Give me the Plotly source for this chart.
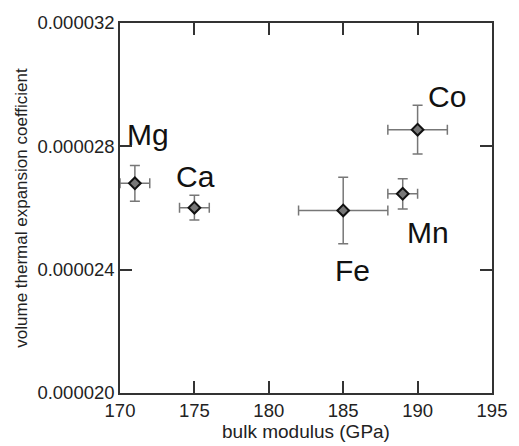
import plotly.graph_objects as go

elements = ["Mg", "Ca", "Fe", "Mn", "Co"]
bulk_modulus = [171, 175, 185, 189, 190]
bulk_err = [1, 1, 3, 1, 2]
alpha = [2.680e-5, 2.601e-5, 2.592e-5, 2.646e-5, 2.854e-5]
alpha_err = [0.058e-5, 0.040e-5, 0.108e-5, 0.049e-5, 0.079e-5]
label_x = [171.9, 175.1, 185.6, 190.7, 192.0]
label_y = [2.839e-5, 2.703e-5, 2.396e-5, 2.519e-5, 2.962e-5]

x_ticks = [170, 175, 180, 185, 190, 195]
y_ticks = [0.000020, 0.000024, 0.000028, 0.000032]

FONT = "Liberation Sans, Arial, sans-serif"

fig = go.Figure()
fig.add_trace(go.Scatter(
    x=bulk_modulus, y=alpha, mode="markers",
    error_x=dict(type="data", array=bulk_err, color="#777777", thickness=1.5, width=5),
    error_y=dict(type="data", array=alpha_err, color="#777777", thickness=1.5, width=5),
    marker=dict(symbol="diamond", size=9, color="#777777",
                line=dict(color="#111111", width=2)),
    showlegend=False,
))
for name, lx, ly in zip(elements, label_x, label_y):
    fig.add_annotation(x=lx, y=ly, text=name, showarrow=False,
                       font=dict(size=30, color="#111111", family=FONT))

axis_common = dict(showline=True, linecolor="#333333", linewidth=1.5, mirror="ticks",
                   ticks="inside", ticklen=12, tickcolor="#333333", tickwidth=1.5,
                   showgrid=False, zeroline=False,
                   tickfont=dict(size=18.5, color="#222222", family=FONT))
fig.update_xaxes(range=[170, 195], tickvals=x_ticks, ticktext=[str(v) for v in x_ticks],
                 title=dict(text="bulk modulus (GPa)", font=dict(size=19, color="#222222", family=FONT), standoff=0),
                 **axis_common)
fig.update_yaxes(range=[0.000020, 0.000032], tickvals=y_ticks,
                 ticktext=["%.6f" % v for v in y_ticks],
                 title=dict(text="volume thermal expansion coefficient", font=dict(size=17, color="#222222", family=FONT), standoff=5),
                 **axis_common)
fig.update_layout(width=519, height=446, margin=dict(l=120, r=20, t=18, b=49),
                  plot_bgcolor="white", paper_bgcolor="white",
                  font=dict(family=FONT))
fig.write_html("out.html")
